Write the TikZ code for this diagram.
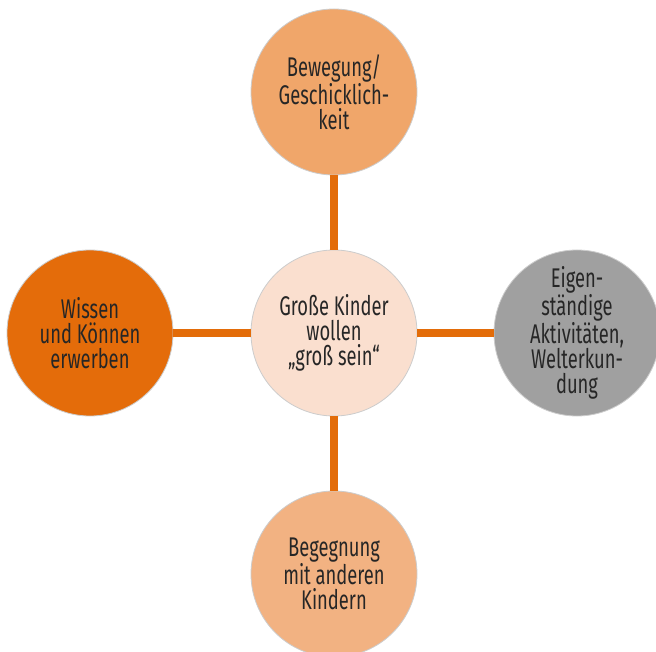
\documentclass[tikz,border=0pt]{standalone}
\usepackage{fontspec}
\setmainfont[FakeStretch=0.68]{Fira Sans}
\definecolor{conn}{HTML}{E36C09}
\definecolor{ctop}{HTML}{F0A66A}
\definecolor{cbot}{HTML}{F2B282}
\definecolor{cleft}{HTML}{E46C0A}
\definecolor{cmid}{HTML}{FADFCF}
\definecolor{cright}{HTML}{A0A0A0}
\definecolor{txt}{HTML}{262626}
\definecolor{rim}{HTML}{CCCCCC}
\begin{document}
\begin{tikzpicture}[x=1pt,y=-1pt,
  bubble/.style={circle, draw=rim, line width=0.8pt, minimum size=166pt, inner sep=0pt,
    align=center, text=txt, font=\fontsize{27}{25}\selectfont},
  link/.style={draw=conn, line width=8pt}]
\clip (0,0) rectangle (656,652);
\fill[white] (0,0) rectangle (656,652);
\node[bubble, fill=cmid] (c) at (334,333) {Große Kinder\\wollen\\„groß sein“};
\node[bubble, fill=ctop] (t) at (334,92) {Bewegung/\\Geschicklich-\\keit};
\node[bubble, fill=cbot] (b) at (334,574) {Begegnung\\mit anderen\\Kindern};
\node[bubble, fill=cleft] (l) at (90,333) {Wissen\\und Können\\erwerben};
\node[bubble, fill=cright] (r) at (577,333) {Eigen-\\ständige\\Aktivitäten,\\Welterkun-\\dung};
\draw[link] (c) -- (t);
\draw[link] (c) -- (b);
\draw[link] (c) -- (l);
\draw[link] (c) -- (r);
\end{tikzpicture}
\end{document}
